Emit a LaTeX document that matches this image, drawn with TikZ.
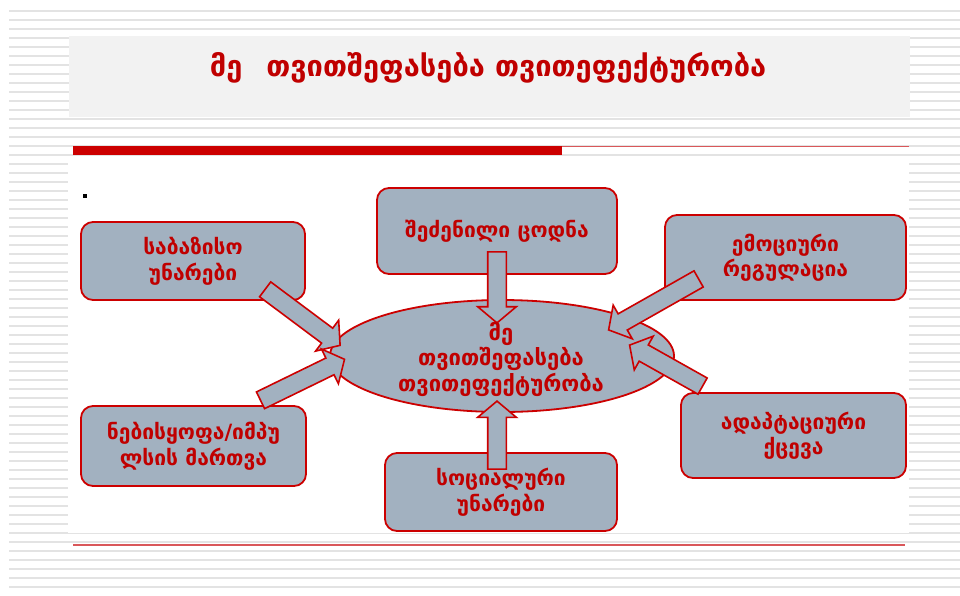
\documentclass[tikz,border=0pt]{standalone}
\usepackage{fontspec}
\newfontfamily\geo{DejaVu Sans}
\usetikzlibrary{shapes.geometric,shapes.arrows,calc}

\definecolor{boxgray}{HTML}{A2B1C0}
\definecolor{txtred}{HTML}{C00000}
\definecolor{edgered}{HTML}{CC0000}
\definecolor{stripegray}{HTML}{E3E3E3}
\definecolor{titlegray}{HTML}{F2F2F2}
\definecolor{linered}{HTML}{D9575A}

\tikzset{
    box/.style={rectangle, rounded corners=12pt, draw=edgered, fill=boxgray,
        line width=1.8pt, align=center, text=txtred,
        font=\geo\bfseries\fontsize{21}{25.5}\selectfont},
    hub/.style={ellipse, draw=edgered, fill=boxgray, line width=1.8pt,
        minimum width=344pt, minimum height=112pt, inner sep=0pt},
    hubtext/.style={align=center, text=txtred,
        font=\geo\bfseries\fontsize{22}{25.5}\selectfont},
    fatarrow/.style={single arrow, draw=edgered, fill=boxgray, line width=1.6pt,
        inner xsep=0pt, inner ysep=8.5pt, outer sep=0pt,
        single arrow head extend=10pt, single arrow tip angle=100}
}

% block arrow: name, tail, tip
\newcommand{\blockarrow}[3]{%
    \path let \p1=(#2), \p2=(#3), \n1={atan2(\y2-\y1,\x2-\x1)},
        \n2={veclen(\x2-\x1,\y2-\y1)} in
        node[fatarrow, minimum height=\n2, rotate=\n1] (#1) at ($(#2)!0.5!(#3)$) {};}

\begin{document}
\begin{tikzpicture}[x=1pt, y=-1pt]
\useasboundingbox (0,0) rectangle (960,595);
\fill[white] (0,0) rectangle (960,595);

% striped background
\foreach \i in {0,...,64}
    \fill[stripegray] (9,{10+9*\i}) rectangle (960,{12+9*\i});

% title band and content area
\fill[titlegray] (69,36) rectangle (910,117);
\fill[white] (68,161) rectangle (909,533);
\fill[edgered] (73,146) rectangle (562,155);
\draw[linered, line width=1.5pt] (562,146.5) -- (909,146.5);
\draw[linered, line width=1.5pt] (73,545) -- (905,545);
\fill[black] (83,194) rectangle (87,198);

\node[text=txtred, font=\geo\bfseries\fontsize{29}{34}\selectfont] (title) at (488,68)
    {მე\hspace{24pt}თვითშეფასება თვითეფექტურობა};

% boxes
\node[box, minimum width=224pt, minimum height=78pt] (basic) at (193,261) {საბაზისო\\უნარები};
\node[box, minimum width=240pt, minimum height=86pt] (knowledge) at (497,231) {შეძენილი ცოდნა};
\node[box, minimum width=241pt, minimum height=85pt] (emotion) at (785.5,257.5) {ემოციური\\რეგულაცია};
\node[box, minimum width=225pt, minimum height=80pt] (will) at (193.5,446) {ნებისყოფა/იმპუ\\ლსის მართვა};
\node[box, minimum width=232pt, minimum height=78pt] (social) at (501,492) {სოციალური\\უნარები};
\node[box, minimum width=225pt, minimum height=85pt] (adapt) at (793.5,435.5) {ადაპტაციური\\ქცევა};

% centre
\node[hub] (self) at (502,356) {};

% arrow ends
\coordinate (basic-t) at (262,287);
\coordinate (basic-h) at (337,343);
\coordinate (knowledge-t) at (497,248);
\coordinate (knowledge-h) at (497,319);
\coordinate (emotion-t) at (702,277);
\coordinate (emotion-h) at (612,328);
\coordinate (will-t) at (257,402);
\coordinate (will-h) at (341,361);
\coordinate (social-t) at (497,473);
\coordinate (social-h) at (497,405);
\coordinate (adapt-t) at (706,388);
\coordinate (adapt-h) at (633,347);

\blockarrow{a1}{basic-t}{basic-h}
\blockarrow{a2}{knowledge-t}{knowledge-h}
\blockarrow{a3}{emotion-t}{emotion-h}
\blockarrow{a4}{will-t}{will-h}
\blockarrow{a5}{social-t}{social-h}
\blockarrow{a6}{adapt-t}{adapt-h}

\node[hubtext] (selftext) at (501,359) {მე\\თვითშეფასება\\თვითეფექტურობა};
\end{tikzpicture}
\end{document}
